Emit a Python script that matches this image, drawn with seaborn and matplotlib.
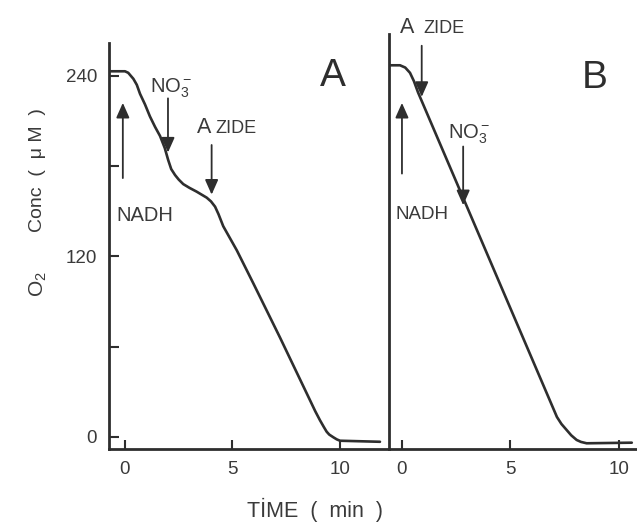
import matplotlib
matplotlib.use("Agg")
import matplotlib.pyplot as plt
import seaborn as sns
import pandas as pd

# ---------------- data ----------------
time_a = [-0.72, 0.0, 0.15, 0.39, 0.55, 0.70, 0.93, 1.16, 1.40, 1.63, 1.85, 2.01,
          2.15, 2.33, 2.50, 2.71, 3.00, 3.33, 3.80, 4.00, 4.19, 4.35, 4.57, 5.20,
          5.97, 7.21, 8.60, 8.85, 9.07, 9.25, 9.38, 9.50, 9.69, 9.85, 10.0, 11.86]
o2_a = [243, 243, 242, 238, 234, 228, 221, 213, 206, 200, 192, 184,
        178, 174, 171, 168, 165.5, 163, 159, 156.5, 153, 148, 140, 124,
        102, 66, 24.5, 17, 11, 6.5, 3.4, 1.5, -0.3, -1.7, -2.6, -3.3]

time_b = [-0.62, -0.09, 0.15, 0.37, 0.55, 0.74, 7.14, 7.35, 7.59, 7.80, 8.05,
          8.25, 8.51, 10.59]
o2_b = [247, 247, 245.5, 242, 236.5, 229, 13.2, 8.5, 4.5, 1.0, -2.1,
        -3.4, -4.3, -3.9]

x_ticks = [0, 5, 10]
y_ticks = [0, 120, 240]
y_minor = [60, 180]

events_a_labels = ["NADH", "NO$_3^-$", "A", "ZIDE"]
events_a_times = [-0.1, 2.0, 4.03]
events_b_times = [0.0, 0.91, 2.82]

panel_labels = ["A", "B"]

# ---------------- style ----------------
sns.set_theme(style="ticks")
plt.rcParams["font.family"] = ["Liberation Sans", "DejaVu Sans"]
plt.rcParams.update({
    "mathtext.fontset": "custom",
    "mathtext.rm": "Liberation Sans",
    "mathtext.it": "Liberation Sans:italic",
    "mathtext.bf": "Liberation Sans:bold",
})

INK = "#2e2e2e"
TXT = "#3a3a3a"
W, H = 637, 525

fig = plt.figure(figsize=(W / 100, H / 100), dpi=100)
fig.patch.set_facecolor("white")


def box(l, r, b, t):
    return [l / W, 1 - b / H, (r - l) / W, (b - t) / H]


axA = fig.add_axes(box(109.5, 389, 449, 43))
axB = fig.add_axes(box(388.5, 637, 449, 34))

df_a = pd.DataFrame({"time": time_a, "o2": o2_a})
df_b = pd.DataFrame({"time": time_b, "o2": o2_b})

sns.lineplot(data=df_a, x="time", y="o2", ax=axA, color=INK, lw=1.9,
             sort=False, estimator=None)
sns.lineplot(data=df_b, x="time", y="o2", ax=axB, color=INK, lw=1.9,
             sort=False, estimator=None)
for ax in (axA, axB):
    for ln in ax.lines:
        ln.set_solid_joinstyle("round")
        ln.set_solid_capstyle("round")

axA.set_xlim(-0.72, 12.28)
axA.set_ylim(-8.1, 261.8)
axB.set_xlim(-0.62, 10.83)
axB.set_ylim(-8.1, 267.8)

for ax in (axA, axB):
    ax.set_facecolor("none")
    ax.set_xlabel("")
    ax.set_ylabel("")
    for s in ("top", "right"):
        ax.spines[s].set_visible(False)
    for s in ("left", "bottom"):
        ax.spines[s].set_linewidth(2.0)
        ax.spines[s].set_color(INK)
    ax.set_xticks(x_ticks)
    ax.set_xticklabels([str(v) for v in x_ticks])
    ax.tick_params(axis="x", direction="in", length=6.5, width=1.5, color=INK,
                   labelcolor=TXT, labelsize=13.5, pad=9)

axA.set_yticks(y_ticks)
axA.set_yticklabels([str(v) for v in y_ticks])
axA.set_yticks(y_minor, minor=True)
axA.tick_params(axis="y", which="both", direction="in", length=7, width=1.5,
                color=INK, labelcolor=TXT, labelsize=13.5, pad=9)
axB.set_yticks([])

# ---------------- annotations ----------------
arrow_kw = dict(arrowstyle="-|>,head_length=0.9,head_width=0.4", color=INK,
                lw=1.3, shrinkA=0, shrinkB=0, mutation_scale=10)


def arrow(ax, t, tail, tip):
    ax.annotate("", xy=(t, tip), xytext=(t, tail), arrowprops=arrow_kw,
                annotation_clip=False)


# Panel A
arrow(axA, events_a_times[0], 172, 222)
arrow(axA, events_a_times[1], 225, 189)
arrow(axA, events_a_times[2], 194, 161)
axA.text(-0.39, 146.8, events_a_labels[0], ha="left", va="center",
         fontsize=14.5, color=TXT)
axA.text(1.16, 229, events_a_labels[1], ha="left", va="baseline",
         fontsize=14.5, color=TXT)
axA.text(3.33, 202, events_a_labels[2], ha="left", va="baseline",
         fontsize=15.5, color=TXT)
axA.text(4.19, 202, events_a_labels[3], ha="left", va="baseline",
         fontsize=13, color=TXT)

# Panel B
arrow(axB, events_b_times[0], 175, 222)
arrow(axB, events_b_times[1], 260, 226)
arrow(axB, events_b_times[2], 193, 154)
axB.text(-0.32, 147.5, events_a_labels[0], ha="left", va="center",
         fontsize=13.5, color=TXT)
axB.text(2.12, 198.5, events_a_labels[1], ha="left", va="baseline",
         fontsize=14.5, color=TXT)
axB.text(-0.09, 268.3, events_a_labels[2], ha="left", va="baseline",
         fontsize=15.5, color=TXT, clip_on=False)
axB.text(0.97, 268.3, events_a_labels[3], ha="left", va="baseline",
         fontsize=13, color=TXT, clip_on=False)

# panel letters
fig.text(333 / W, 1 - 76 / H, panel_labels[0], ha="center", va="center",
         fontsize=28, color=INK)
fig.text(595 / W, 1 - 77.5 / H, panel_labels[1], ha="center", va="center",
         fontsize=28, color=INK)

# axis titles
fig.text(38 / W, 1 - 170 / H, "Conc  (  μ M  )", rotation=90, ha="center",
         va="center", fontsize=14, color=TXT)
fig.text(38 / W, 1 - 284 / H, "O$_2$", rotation=90, ha="center",
         va="center", fontsize=15, color=TXT)
fig.text(315 / W, 1 - 510 / H, "TİME  (  min  )", ha="center", va="center",
         fontsize=15.5, color=TXT)

fig.savefig("out.png", dpi=100, facecolor="white")
